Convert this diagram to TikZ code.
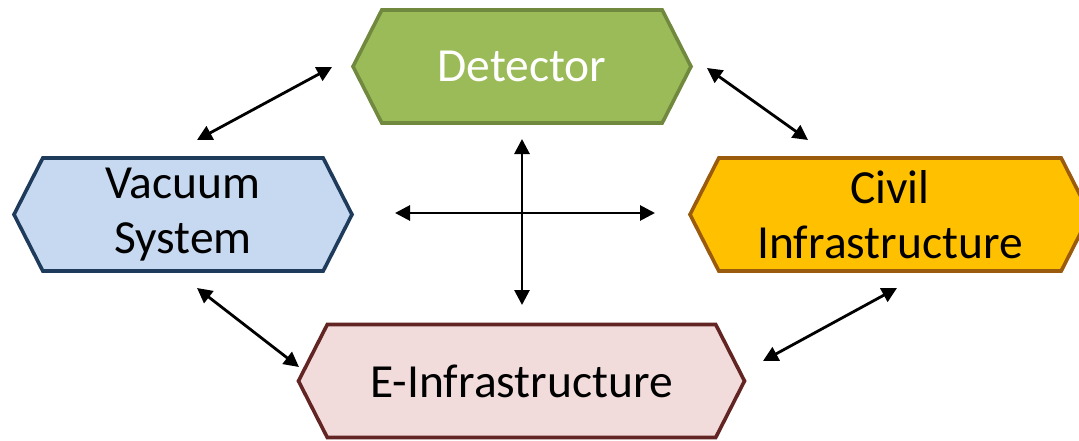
\documentclass[tikz,border=0pt]{standalone}
\usepackage{fontspec}
\setmainfont{Carlito}
\usetikzlibrary{shapes.symbols,arrows.meta}
\definecolor{detfill}{HTML}{9BBB59}
\definecolor{detline}{HTML}{71893F}
\definecolor{vacfill}{HTML}{C6D9F1}
\definecolor{vacline}{HTML}{1F3B5C}
\definecolor{civfill}{HTML}{FFC000}
\definecolor{civline}{HTML}{9A5B0C}
\definecolor{efill}{HTML}{F2DCDB}
\definecolor{eline}{HTML}{632523}
\tikzset{
  hexbox/.style={signal, signal to=west and east, signal pointer angle=126,
    minimum height=113pt, inner sep=0pt, outer sep=0pt, line width=3.6pt,
    font=\fontsize{47.5}{55}\selectfont, align=center},
  link/.style={line width=2.8pt, {Triangle[length=15pt,width=15pt]}-{Triangle[length=15pt,width=15pt]}}
}
\begin{document}
\begin{tikzpicture}[x=1pt,y=1pt]
\clip (0,0) rectangle (1079,440);
\fill[white] (0,0) rectangle (1079,440);
\node[hexbox, fill=detfill, draw=detline, text=white, minimum width=338pt] (det) at (522,373.5) {Detector};
\node[hexbox, fill=vacfill, draw=vacline, minimum width=338pt] (vac) at (183,225.5) {Vacuum\\System};
\node[hexbox, fill=civfill, draw=civline, minimum width=400pt] (civ) at (890,225.5) {Civil\\Infrastructure};
\node[hexbox, fill=efill, draw=eline, minimum width=446pt] (einf) at (521.5,59) {E-Infrastructure};
\coordinate (a1s) at (197,300); \coordinate (a1e) at (332,373);
\coordinate (a2s) at (707,372); \coordinate (a2e) at (808,300);
\coordinate (a3s) at (197,152); \coordinate (a3e) at (299,73);
\coordinate (a4s) at (897,152); \coordinate (a4e) at (763,79);
\coordinate (hs) at (395,227); \coordinate (he) at (655,227);
\coordinate (vs) at (522,301); \coordinate (ve) at (522,135);
\draw[link] (a1s) -- (a1e);
\draw[link] (a2s) -- (a2e);
\draw[link] (a3s) -- (a3e);
\draw[link] (a4s) -- (a4e);
\draw[link] (hs) -- (he);
\draw[link] (vs) -- (ve);
\end{tikzpicture}
\end{document}
